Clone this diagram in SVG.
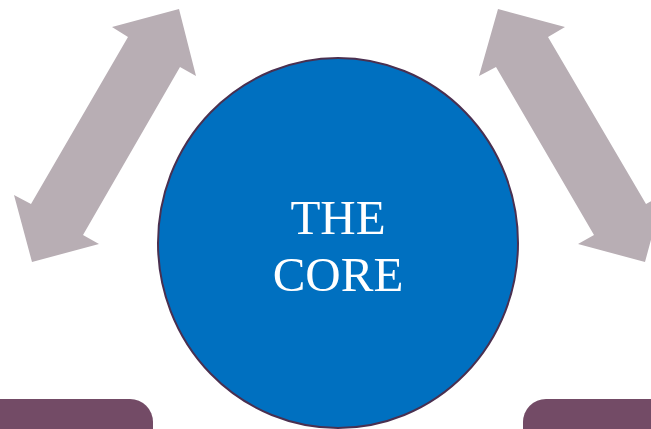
<svg xmlns="http://www.w3.org/2000/svg" width="651" height="429" viewBox="0 0 651 429">
<style>
.arr{fill:#b8aeb4}
.box{fill:#734b66}
.core{fill:#0070c0;stroke:#4a3050;stroke-width:2}
.lbl{font-family:"Liberation Serif",serif;font-size:49px;fill:#ffffff;text-anchor:middle}
</style>
<g id="connectors">
<polygon class="arr" points="179,9 196,76 180,67 83,235 99,244 32,262 14,195 31,204 128,37 112,27"/>
<polygon class="arr" points="498,9 479,76 496,67 594,235 578,244 645,262 663,195 646,204 548,37 565,27"/>
</g>
<g id="left-box"><rect class="box" x="-30" y="399" width="183" height="60" rx="23"/></g>
<g id="right-box"><rect class="box" x="523" y="399" width="183" height="60" rx="23"/></g>
<g id="core">
<ellipse class="core" cx="338" cy="243" rx="180" ry="185"/>
<text class="lbl" x="338" y="234">THE</text>
<text class="lbl" x="338" y="291">CORE</text>
</g>
</svg>
